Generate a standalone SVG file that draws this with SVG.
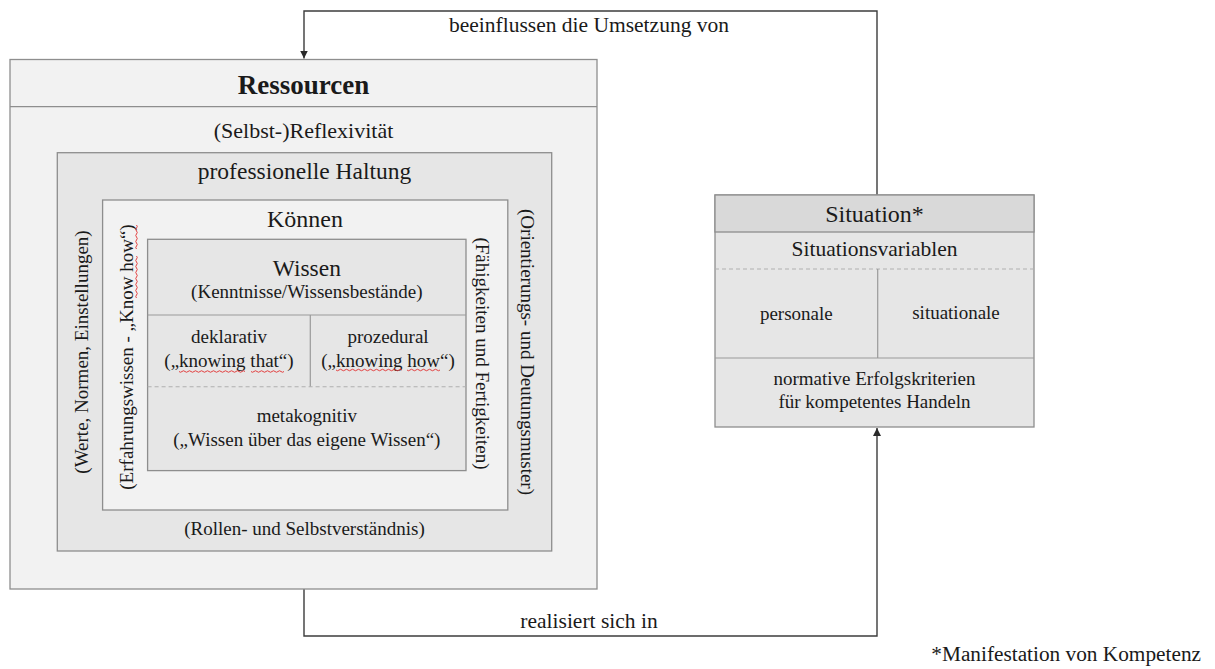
<svg xmlns="http://www.w3.org/2000/svg" width="1215" height="669" viewBox="0 0 1215 669">
<defs>
<style>
text{font-family:"Liberation Serif","Times New Roman",serif;fill:#1a1a1a;}
.c{text-anchor:middle;}
.t24{font-size:24px;}
.t22{font-size:22px;}
.t19{font-size:19px;}
.box{stroke:#8e8e8e;stroke-width:1.3;}
.l1{fill:#f2f2f2;}
.l2{fill:#e6e6e6;}
.hd{fill:#d9d9d9;}
.sep{stroke:#9a9a9a;stroke-width:1.2;fill:none;}
.dash{stroke:#b0b0b0;stroke-width:1.1;stroke-dasharray:4 3;fill:none;}
.conn{stroke:#3c3c3c;stroke-width:1.4;fill:none;}
.sq{stroke:#e23030;stroke-width:0.9;fill:none;}
</style>
<marker id="arr" viewBox="0 0 10 10" refX="10" refY="5" markerWidth="8" markerHeight="8" markerUnits="userSpaceOnUse" orient="auto">
<path d="M0,0 L10,5 L0,10 z" fill="#2a2a2a"/>
</marker>
</defs>

<g id="connectors">
<path class="conn" d="M877,195 V11 H304 V58.5" marker-end="url(#arr)"/>
<path class="conn" d="M304,589 V636 H877 V428" marker-end="url(#arr)"/>
<text class="c" x="589" y="32" style="font-size:21.5px">beeinflussen die Umsetzung von</text>
<text class="c" x="589" y="628" style="font-size:21.5px">realisiert sich in</text>
</g>

<g id="ressourcen">
<rect class="box l1" x="10" y="59.5" width="587" height="529.5"/>
<line class="box" x1="10" y1="106.7" x2="597" y2="106.7"/>
<text class="c" x="303.5" y="93.5" style="font-size:27px;font-weight:bold">Ressourcen</text>
<text class="c t22" x="303.5" y="137.5">(Selbst-)Reflexivität</text>
</g>

<g id="haltung">
<rect class="box l2" x="57.3" y="152.7" width="494.4" height="398.3"/>
<text class="c t24" x="304.5" y="178.5" style="font-size:23.5px">professionelle Haltung</text>
<text class="t19 c" transform="translate(88,352) rotate(-90)">(Werte, Normen, Einstellungen)</text>
<text class="t19 c" transform="translate(521,352) rotate(90)">(Orientierungs- und Deutungsmuster)</text>
<text class="c t19" x="304.5" y="535">(Rollen- und Selbstverständnis)</text>
</g>

<g id="koennen">
<rect class="box l1" x="102.6" y="200" width="405.2" height="310"/>
<text class="c t24" x="305" y="226.7">Können</text>
<text class="t19 c" transform="translate(133,357) rotate(-90)">(Erfahrungswissen - „Know how“)</text>
<text class="t19 c" transform="translate(476,353.5) rotate(90)">(Fähigkeiten und Fertigkeiten)</text>
<path class="sq" d="M136.5,225 q1.5,1.5 0,3 t0,3 t0,3 t0,3 t0,3 t0,3 t0,3 t0,3 M136.5,256 q1.5,1.5 0,3 t0,3 t0,3 t0,3 t0,3 t0,3 t0,3 t0,3 t0,3 t0,3 t0,3 t0,3 t0,3 t0,3"/>
</g>

<g id="wissen">
<rect class="box l2" x="147.6" y="239.3" width="318.4" height="231.3"/>
<line class="sep" x1="147.6" y1="315" x2="466" y2="315"/>
<line class="sep" x1="310.3" y1="315" x2="310.3" y2="386.7"/>
<line class="dash" x1="147.6" y1="386.7" x2="466" y2="386.7"/>
<text class="c t24" x="306.8" y="276" style="font-size:23.5px">Wissen</text>
<text class="c t19" x="306.8" y="297.5">(Kenntnisse/Wissensbestände)</text>
<text class="c t19" x="229" y="342.7">deklarativ</text>
<text class="c t19" x="229" y="366.7">(„knowing that“)</text>
<text class="c t19" x="388" y="342.7">prozedural</text>
<text class="c t19" x="388" y="366.7">(„knowing how“)</text>
<path class="sq" d="M179,371.5 q1.5,1.5 3,0 t3,0 t3,0 t3,0 t3,0 t3,0 t3,0 t3,0 t3,0 t3,0 t3,0 t3,0 t3,0 t3,0 t3,0 t3,0 t3,0 t3,0 t3,0 t3,0 t3,0 t3,0 M251,371.5 q1.5,1.5 3,0 t3,0 t3,0 t3,0 t3,0 t3,0 t3,0 t3,0 t3,0 t3,0 t3,0"/>
<path class="sq" d="M336,370 q1.5,1.5 3,0 t3,0 t3,0 t3,0 t3,0 t3,0 t3,0 t3,0 t3,0 t3,0 t3,0 t3,0 t3,0 t3,0 t3,0 t3,0 t3,0 t3,0 t3,0 t3,0 t3,0 t3,0 M407,370 q1.5,1.5 3,0 t3,0 t3,0 t3,0 t3,0 t3,0 t3,0 t3,0 t3,0 t3,0 t3,0"/>
<text class="c t19" x="306.8" y="422">metakognitiv</text>
<text class="c t19" x="306.8" y="445.7">(„Wissen über das eigene Wissen“)</text>
</g>

<g id="situation">
<rect class="box l2" x="715" y="195" width="319" height="232"/>
<rect class="box hd" x="715" y="195" width="319" height="37"/>
<line class="dash" x1="715" y1="269" x2="1034" y2="269"/>
<line class="sep" x1="877.7" y1="269" x2="877.7" y2="358"/>
<line class="sep" x1="715" y1="358" x2="1034" y2="358"/>
<text class="c t24" x="874.5" y="221.7">Situation*</text>
<text class="c" x="874.5" y="256" style="font-size:21.5px">Situationsvariablen</text>
<text class="c t19" x="796.3" y="320">personale</text>
<text class="c t19" x="956" y="319">situationale</text>
<text class="c t19" x="874.5" y="385">normative Erfolgskriterien</text>
<text class="c t19" x="874.5" y="408">für kompetentes Handeln</text>
</g>

<g id="footnote">
<text x="1201" y="661" style="font-size:21.3px;text-anchor:end">*Manifestation von Kompetenz</text>
</g>
</svg>
